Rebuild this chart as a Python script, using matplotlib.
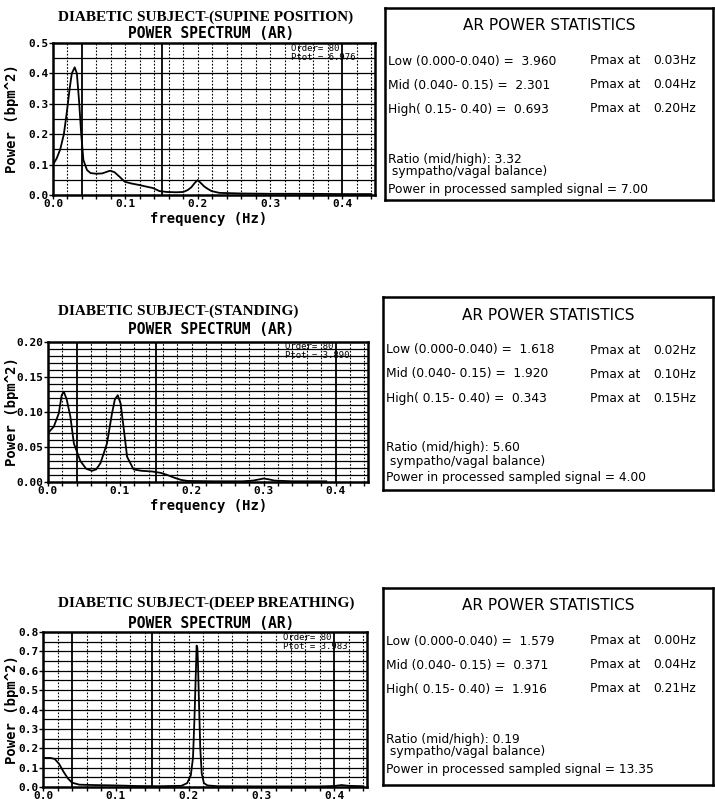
import numpy as np
import matplotlib.pyplot as plt

# spectra (frequency in Hz, power in bpm^2)
f_sup = [0.000, 0.005, 0.010, 0.015, 0.019, 0.023, 0.026, 0.030, 0.033, 0.036, 0.039, 0.042,
         0.047, 0.052, 0.060, 0.068, 0.074, 0.079, 0.085, 0.092, 0.099, 0.108, 0.119, 0.130,
         0.138, 0.147, 0.157, 0.170, 0.180, 0.186, 0.191, 0.196, 0.200, 0.204, 0.209, 0.214,
         0.219, 0.230, 0.260, 0.300, 0.350, 0.400, 0.440]
p_sup = [0.100, 0.120, 0.150, 0.200, 0.270, 0.350, 0.400, 0.420, 0.400, 0.310, 0.200, 0.115,
         0.082, 0.072, 0.070, 0.071, 0.076, 0.080, 0.075, 0.060, 0.044, 0.038, 0.033, 0.027,
         0.023, 0.013, 0.010, 0.009, 0.010, 0.016, 0.025, 0.040, 0.049, 0.040, 0.028, 0.020,
         0.013, 0.007, 0.005, 0.004, 0.004, 0.003, 0.003]

f_sta = [0.000, 0.008, 0.015, 0.019, 0.022, 0.026, 0.031, 0.036, 0.045, 0.053, 0.061, 0.067,
         0.073, 0.082, 0.089, 0.093, 0.097, 0.101, 0.105, 0.110, 0.119, 0.130, 0.145, 0.157,
         0.166, 0.176, 0.185, 0.194, 0.230, 0.270, 0.285, 0.295, 0.300, 0.306, 0.315, 0.340,
         0.387]
p_sta = [0.070, 0.079, 0.098, 0.124, 0.129, 0.118, 0.094, 0.055, 0.030, 0.019, 0.016, 0.018,
         0.027, 0.055, 0.098, 0.118, 0.124, 0.112, 0.079, 0.036, 0.018, 0.016, 0.015, 0.013,
         0.010, 0.006, 0.003, 0.0015, 0.001, 0.001, 0.002, 0.004, 0.005, 0.004, 0.002, 0.001,
         0.001]

f_deep = [0.000, 0.010, 0.016, 0.022, 0.028, 0.034, 0.040, 0.050, 0.070, 0.100, 0.130, 0.160,
          0.190, 0.198, 0.203, 0.206, 0.208, 0.210, 0.211, 0.212, 0.213, 0.214, 0.216, 0.218,
          0.221, 0.226, 0.240, 0.300, 0.380, 0.400, 0.410, 0.420, 0.440]
p_deep = [0.150, 0.150, 0.145, 0.120, 0.080, 0.045, 0.022, 0.012, 0.010, 0.008, 0.005, 0.004,
          0.006, 0.020, 0.060, 0.150, 0.350, 0.600, 0.730, 0.720, 0.620, 0.470, 0.200, 0.070,
          0.020, 0.008, 0.004, 0.003, 0.003, 0.005, 0.010, 0.006, 0.004]

titles = ["DIABETIC SUBJECT-(SUPINE POSITION)", "DIABETIC SUBJECT-(STANDING)",
          "DIABETIC SUBJECT-(DEEP BREATHING)"]
ymax = [0.5, 0.2, 0.8]
ygrid = [0.05, 0.01, 0.05]
ylab_step = [0.1, 0.05, 0.1]
yfmt = ["%.1f", "%.2f", "%.1f"]
ptot = ["6.976", "3.890", "3.983"]
order = "80"

low = ["3.960", "1.618", "1.579"]
mid = ["2.301", "1.920", "0.371"]
high = ["0.693", "0.343", "1.916"]
pmax_low = ["0.03Hz", "0.02Hz", "0.00Hz"]
pmax_mid = ["0.04Hz", "0.10Hz", "0.04Hz"]
pmax_high = ["0.20Hz", "0.15Hz", "0.21Hz"]
ratio = ["3.32", "5.60", "0.19"]
psig = ["7.00", "4.00", "13.35"]

W, H = 715, 799
fig = plt.figure(figsize=(W/100, H/100), dpi=100)

def fx(x): return x/W
def fy(y): return 1 - y/H

# axes boxes in pixels: left, top, right, bottom
ax_px = [(53, 43, 375, 195), (48, 342, 368, 482), (43, 632, 367, 787)]
title_y = [17, 311, 603]
sub_y = [33, 330, 623]
box_px = [(385, 8, 713, 200), (383, 297, 713, 490), (383, 588, 713, 785)]
mono = "DejaVu Sans Mono"
fs = 8.8

curves = [(f_sup, p_sup), (f_sta, p_sta), (f_deep, p_deep)]

for i in range(3):
    l, t, r, b = ax_px[i]
    ax = fig.add_axes([fx(l), fy(b), (r-l)/W, (b-t)/H])
    f, p = curves[i]
    ax.plot(f, p, 'k', lw=1.3)
    ax.set_xlim(0, 0.445)
    ax.set_ylim(0, ymax[i])
    # grid
    for yy in np.arange(ygrid[i], ymax[i], ygrid[i]):
        ax.axhline(yy, color='k', lw=0.9)
    for xx in np.arange(0.02, 0.445, 0.02):
        if abs(xx-0.04) > 1e-6 and abs(xx-0.40) > 1e-6:
            ax.axvline(xx, color='k', lw=0.8, ls=(0, (1.5, 1.5)))
    for xx in [0.04, 0.15, 0.40]:
        ax.axvline(xx, color='k', lw=1.3)
    for s in ax.spines.values():
        s.set_linewidth(1.8)
    ax.set_xticks([0.0, 0.1, 0.2, 0.3, 0.4])
    ax.set_xticklabels(["0.0", "0.1", "0.2", "0.3", "0.4"])
    ax.set_xticks(np.arange(0, 0.445, 0.02), minor=True)
    yt = np.arange(0, ymax[i] + 1e-9, ylab_step[i])
    ax.set_yticks(yt)
    ax.set_yticklabels([yfmt[i] % v for v in yt])
    ax.tick_params(which='both', direction='out', length=3, width=1, labelsize=8, pad=0)
    for lab in ax.get_xticklabels() + ax.get_yticklabels():
        lab.set_family(mono)
        lab.set_weight('bold')
    ax.text(0.74, 0.965, "Order= " + order, transform=ax.transAxes, fontsize=6.5,
            family=mono, va='center')
    ax.text(0.74, 0.905, "Ptot = " + ptot[i], transform=ax.transAxes, fontsize=6.5,
            family=mono, va='center')

    fig.text(fx(58), fy(title_y[i]), titles[i], family="Liberation Serif", weight='bold',
             fontsize=11, va='center', ha='left')
    fig.text(fx(211), fy(sub_y[i]), "POWER SPECTRUM (AR)", family=mono, weight='bold',
             fontsize=10.5, va='center', ha='center')
    fig.text(fx(12), fy((t+b)/2), "Power (bpm^2)", family=mono, weight='bold', fontsize=10,
             rotation=90, va='center', ha='center')
    if i < 2:
        fig.text(fx(209), fy(b+24), "frequency (Hz)", family=mono, weight='bold', fontsize=10,
                 va='center', ha='center')

    # statistics box
    bl, bt, br, bb = box_px[i]
    bax = fig.add_axes([fx(bl), fy(bb), (br-bl)/W, (bb-bt)/H])
    bax.set_xticks([]); bax.set_yticks([])
    for s in bax.spines.values():
        s.set_linewidth(1.8)
    tx = bl + 3
    fig.text(fx((bl+br)/2), fy(bt+18), "AR POWER STATISTICS", fontsize=11, ha='center', va='center')
    rows = [("Low (0.000-0.040) =  " + low[i], pmax_low[i], 53),
            ("Mid (0.040- 0.15) =  " + mid[i], pmax_mid[i], 77),
            ("High( 0.15- 0.40) =  " + high[i], pmax_high[i], 101)]
    for txt, pm, dy in rows:
        fig.text(fx(tx), fy(bt+dy), txt, fontsize=fs, va='center')
        fig.text(fx(590), fy(bt+dy), "Pmax at", fontsize=fs, va='center')
        fig.text(fx(653), fy(bt+dy), pm, fontsize=fs, va='center')
    fig.text(fx(tx), fy(bt+151), "Ratio (mid/high): " + ratio[i], fontsize=fs, va='center')
    fig.text(fx(tx), fy(bt+164), " sympatho/vagal balance)", fontsize=fs, va='center')
    fig.text(fx(tx), fy(bt+181), "Power in processed sampled signal = " + psig[i],
             fontsize=fs, va='center')

fig.savefig("out.png", dpi=100)
